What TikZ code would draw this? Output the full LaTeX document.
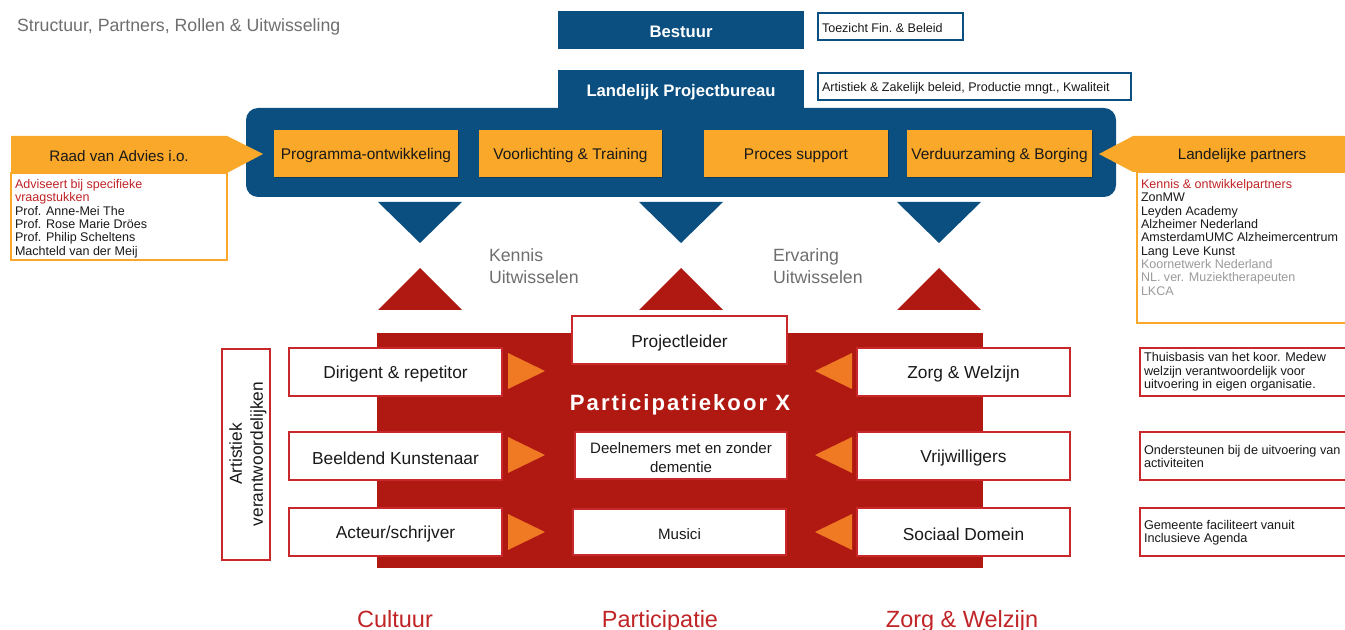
\documentclass[tikz,border=0pt]{standalone}
\usepackage{fontspec}
\setmainfont{Liberation Sans}
\usetikzlibrary{fit,shadows}
\definecolor{dblue}{RGB}{11,79,128}
\definecolor{borange}{RGB}{249,168,42}
\definecolor{kred}{RGB}{176,25,17}
\definecolor{torange}{RGB}{240,122,36}
\definecolor{bred}{RGB}{200,40,42}
\definecolor{tred}{RGB}{192,36,38}
\definecolor{tgrey}{RGB}{110,110,110}
\definecolor{lgrey}{RGB}{155,155,155}
\definecolor{tblack}{RGB}{25,25,25}
\newcommand{\myfs}[2]{\fontsize{#1}{#2}\selectfont}
\begin{document}
\begin{tikzpicture}[x=0.75pt,y=-0.75pt,
  every node/.style={inner sep=0pt, outer sep=0pt},
  lbl/.style={yshift=-1.5pt},
  shd/.style={drop shadow={shadow xshift=0.8pt,shadow yshift=-0.8pt,opacity=0.25,fill=black}},
  bluebox/.style={fill=dblue},
  bluetext/.style={lbl, text=white, font=\bfseries\myfs{12.5}{15}},
  orbox/.style={fill=borange, shd},
  ortext/.style={lbl, text=tblack, font=\myfs{11.6}{14}},
  notebox/.style={fill=white, draw=dblue, line width=0.9pt, shd},
  notetext/.style={lbl, font=\myfs{9.4}{11}, text=tblack},
  listbox/.style={fill=white, draw=borange, line width=0.9pt, shd},
  listtext/.style={lbl, font=\myfs{9.4}{10}, text=tblack, align=left},
  arrowfill/.style={fill=borange},
  arrowtitle/.style={lbl, font=\myfs{11.4}{14}, text=tblack},
  downtri/.style={fill=dblue},
  uptri/.style={fill=kred},
  xchtext/.style={lbl, font=\myfs{13.3}{16.5}, text=tgrey, align=left},
  wbox/.style={fill=white, draw=bred, line width=0.9pt, shd},
  wtext/.style={lbl, text=tblack, font=\myfs{13}{15}},
  stext/.style={lbl, text=tblack, font=\myfs{11.3}{14.25}, align=center},
  desctext/.style={lbl, font=\myfs{9.5}{10.2}, text=tblack, align=left},
  otri/.style={fill=torange},
  domlabel/.style={font=\myfs{17.6}{20}, text=tred}
]
\useasboundingbox (0,0) rectangle (1345,630);
\clip (0,0) rectangle (1345,630);

% title
\node[lbl, anchor=west, font=\myfs{13.3}{16}, text=tgrey] (title) at (17,25) {Structuur, Partners, Rollen \& Uitwisseling};

% Bestuur
\node[bluebox, fit={(558,11)(804,49)}] (bestuur) {};
\node[bluetext] (bestuurt) at (681,30) {Bestuur};
\node[notebox, fit={(818,13)(963,40)}] (toez) {};
\node[notetext, anchor=west] (toezt) at (822,26.5) {Toezicht Fin.\ \& Beleid};

% Landelijk projectbureau
\node[fill=dblue, rounded corners=9pt, fit={(246,108)(1116,197)}] (proj) {};
\node[bluebox, fit={(558,70)(804,112)}] (lpb) {};
\node[bluetext] (lpbt) at (681,90) {Landelijk Projectbureau};
\node[notebox, fit={(818,73)(1131,100)}] (lpbn) {};
\node[notetext, anchor=west] (lpbnt) at (822,86.5) {Artistiek \& Zakelijk beleid, Productie mngt., Kwaliteit};

% orange activity boxes
\node[orbox, fit={(274,130)(458,177)}] (prog) {};
\node[ortext] (progt) at (366,154) {Programma-ontwikkeling};
\node[orbox, fit={(479,130)(662,177)}] (voor) {};
\node[ortext] (voort) at (570.5,154) {Voorlichting \& Training};
\node[orbox, fit={(704,130)(888,177)}] (proc) {};
\node[ortext] (proct) at (796,154) {Proces support};
\node[orbox, fit={(907,130)(1092,177)}] (verd) {};
\node[ortext] (verdt) at (999.5,154) {Verduurzaming \& Borging};

% Raad van Advies
\fill[arrowfill] (11,136) -- (227,136) -- (263,154) -- (227,173) -- (11,173) -- cycle;
\node[arrowtitle] (raad) at (119,154) {Raad van Advies i.o.};
\node[listbox, fit={(11,173)(227,260)}] (raadbox) {};
\node[listtext, anchor=north west] (raadlist) at (15,177.5) {\textcolor{tred}{Adviseert bij specifieke}\\\textcolor{tred}{vraagstukken}\\Prof. Anne-Mei The\\Prof. Rose Marie Dröes\\Prof. Philip Scheltens\\Machteld van der Meij};

% Landelijke partners
\fill[arrowfill] (1350,136) -- (1133,136) -- (1099,154) -- (1133,172) -- (1350,172) -- cycle;
\node[arrowtitle] (partners) at (1242,154) {Landelijke partners};
\node[listbox, fit={(1137,172)(1352,323)}] (partbox) {};
\node[listtext, anchor=north west] (partlist) at (1141,177.5) {\textcolor{tred}{Kennis \& ontwikkelpartners}\\ZonMW\\Leyden Academy\\Alzheimer Nederland\\AmsterdamUMC Alzheimercentrum\\Lang Leve Kunst\\\textcolor{lgrey}{Koornetwerk Nederland}\\\textcolor{lgrey}{NL. ver. Muziektherapeuten}\\\textcolor{lgrey}{LKCA}};

% exchange triangles
\fill[downtri] (378,202) -- (462,202) -- (420,243) -- cycle;
\fill[downtri] (639,202) -- (723,202) -- (681,243) -- cycle;
\fill[downtri] (897,202) -- (981,202) -- (939,243) -- cycle;
\fill[uptri] (378,310) -- (462,310) -- (420,268) -- cycle;
\fill[uptri] (639,310) -- (723,310) -- (681,268) -- cycle;
\fill[uptri] (897,310) -- (981,310) -- (939,268) -- cycle;
\node[xchtext, anchor=north west] (kennis) at (489,247) {Kennis\\Uitwisselen};
\node[xchtext, anchor=north west] (ervaring) at (773,247) {Ervaring\\Uitwisselen};

% Participatiekoor
\node[fill=kred, fit={(377,333)(983,568)}] (koor) {};
\node[lbl, text=white, font=\bfseries\myfs{16.6}{19}\addfontfeature{LetterSpace=9}] (koort) at (680,403) {Participatiekoor X};

\node[wbox, fit={(572,316)(787,364)}] (pl) {};
\node[wtext] (plt) at (679.5,341) {Projectleider};
\node[wbox, fit={(575,432)(787,479)}] (deel) {};
\node[stext] (deelt) at (681,456) {Deelnemers met en zonder\\dementie};
\node[wbox, fit={(573,509)(786,555)}] (mus) {};
\node[stext] (must) at (679.5,532) {Musici};

% left column
\node[wbox, fit={(222,349)(270,560)}] (art) {};
\node[rotate=90, text=tblack, font=\myfs{13}{15.75}, align=center] (artt) at (248,454) {Artistiek\\verantwoordelijken};
\node[wbox, fit={(289,348)(502,396)}] (dir) {};
\node[wtext] (dirt) at (395.5,372) {Dirigent \& repetitor};
\node[wbox, fit={(289,432)(502,480)}] (beel) {};
\node[wtext] (beelt) at (395.5,456) {Beeldend Kunstenaar};
\node[wbox, fit={(289,508)(502,556)}] (act) {};
\node[wtext] (actt) at (395.5,532) {Acteur/schrijver};
\fill[otri] (508,353) -- (545,371) -- (508,389) -- cycle;
\fill[otri] (508,437) -- (545,455) -- (508,473) -- cycle;
\fill[otri] (508,514) -- (545,532) -- (508,550) -- cycle;

% right column
\node[wbox, fit={(857,348)(1070,396)}] (zorg) {};
\node[wtext] (zorgt) at (963.5,372) {Zorg \& Welzijn};
\node[wbox, fit={(857,432)(1070,480)}] (vrij) {};
\node[wtext] (vrijt) at (963.5,456) {Vrijwilligers};
\node[wbox, fit={(857,508)(1070,556)}] (soc) {};
\node[wtext] (soct) at (963.5,532) {Sociaal Domein};
\fill[otri] (852,353) -- (815,371) -- (852,389) -- cycle;
\fill[otri] (852,437) -- (815,455) -- (852,473) -- cycle;
\fill[otri] (852,514) -- (815,532) -- (852,550) -- cycle;

% descriptions
\node[wbox, fit={(1140,348)(1352,396)}] (d1) {};
\node[desctext, anchor=north west] (d1t) at (1144,350.5) {Thuisbasis van het koor. Medew\\welzijn verantwoordelijk voor\\uitvoering in eigen organisatie.};
\node[wbox, fit={(1140,432)(1352,480)}] (d2) {};
\node[desctext, anchor=north west] (d2t) at (1144,443) {Ondersteunen bij de uitvoering van\\activiteiten};
\node[wbox, fit={(1140,508)(1352,556)}] (d3) {};
\node[desctext, anchor=north west] (d3t) at (1144,518) {Gemeente faciliteert vanuit\\Inclusieve Agenda};

% domains
\node[domlabel, anchor=base] (cult) at (395,627) {Cultuur};
\node[domlabel, anchor=base] (part) at (660,627) {Participatie};
\node[domlabel, anchor=base] (zw) at (962,627) {Zorg \& Welzijn};
\end{tikzpicture}
\end{document}
